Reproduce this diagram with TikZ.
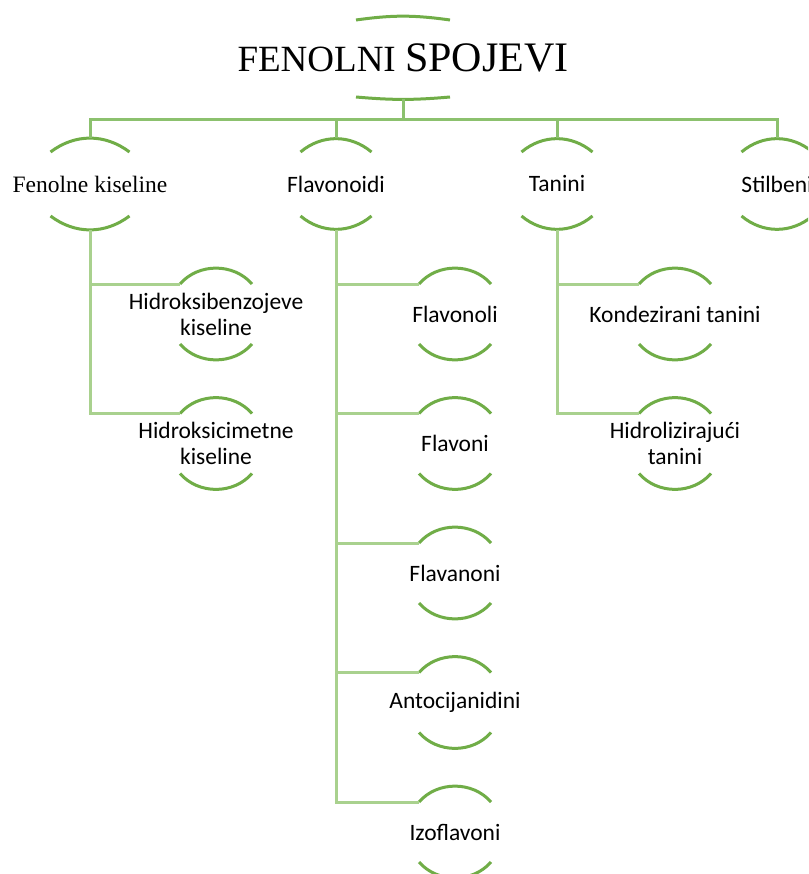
\documentclass[tikz,border=0pt]{standalone}
\usepackage{fontspec}
\setmainfont{Liberation Serif}
\setsansfont{Carlito}
\definecolor{arcg}{RGB}{112,173,71}
\definecolor{barg}{RGB}{140,193,110}
\definecolor{lineg}{RGB}{169,209,142}
\begin{document}
\begin{tikzpicture}[x=1pt,y=-1pt,
  frm/.style 2 args={minimum width=#1, minimum height=#2, inner sep=0pt, outer sep=0pt},
  arcline/.style={draw=arcg, line width=3pt},
  barline/.style={draw=barg, line width=3pt},
  lowline/.style={draw=lineg, line width=3pt},
  serifone/.style={font=\fontsize{23.5}{26}\selectfont\rmfamily, inner sep=0pt},
  sansone/.style={font=\fontsize{23.5}{26}\selectfont\sffamily, inner sep=0pt},
  sanstwo/.style={font=\fontsize{23.5}{26}\selectfont\sffamily, inner sep=0pt, align=center},
]
\clip (0,0) rectangle (808,874);
\fill[white] (0,0) rectangle (808,874);

% title
\node[frm={94}{83.5}, label={[inner sep=0pt]center:{\fontsize{37}{40}\selectfont FENOLNI\ }{\fontsize{42}{44}\selectfont SPOJEVI}}] (T) at (403,57.75) {};

% level 1
\node[frm={79}{92}, label={[serifone]center:Fenolne kiseline}] (fk) at (90,184) {};
\node[frm={71}{92}, label={[sansone]center:Flavonoidi}] (fl) at (336,184) {};
\node[frm={71}{92}, label={[sansone]center:Tanini}] (ta) at (557,184) {};
\node[frm={71}{92}, label={[sansone]center:Stilbeni}] (st) at (777,184) {};

% level 2 - fenolne kiseline
\node[frm={72}{92}, label={[sanstwo]center:Hidroksibenzojeve\\kiseline}] (hb) at (216,314) {};
\node[frm={72}{92}, label={[sanstwo]center:Hidroksicimetne\\kiseline}] (hc) at (216,443.5) {};

% level 2 - flavonoidi
\node[frm={72}{92}, label={[sanstwo]center:Flavonoli}] (f1) at (455,314) {};
\node[frm={72}{92}, label={[sanstwo]center:Flavoni}] (f2) at (455,443.5) {};
\node[frm={72}{92}, label={[sanstwo]center:Flavanoni}] (f3) at (455,573) {};
\node[frm={72}{92}, label={[sanstwo]center:Antocijanidini}] (f4) at (455,702.5) {};
\node[frm={72}{92}, label={[sanstwo]center:Izoflavoni}] (f5) at (455,832) {};

% level 2 - tanini
\node[frm={72}{92}, label={[sanstwo]center:Kondezirani tanini}] (t1) at (675,314) {};
\node[frm={72}{92}, label={[sanstwo]center:Hidrolizirajući\\tanini}] (t2) at (675,443.5) {};

% arcs
\draw[arcline] ([yshift=-4pt]T.north west) to[bend left=8] ([yshift=-4pt]T.north east);
\draw[arcline] ([yshift=2.5pt]T.south west) to[bend right=5] ([yshift=2.5pt]T.south east);
\foreach \n/\s/\b in {fk/14/37, fl/14/40, ta/14/40, st/14/40,
  hb/16/49, hc/16/49, f1/16/49, f2/16/49, f3/16/49, f4/16/49, f5/16/49, t1/16/49, t2/16/49}{
  \draw[arcline] ([yshift=-\s pt]\n.north west) to[bend left=\b] ([yshift=-\s pt]\n.north east);
  \draw[arcline] ([yshift=\s pt]\n.south west) to[bend right=\b] ([yshift=\s pt]\n.south east);
}

% top connectors
\coordinate (bar) at (403,120);
\draw[barline] (T.south) -- (T.south |- bar);
\draw[barline] (fk.north) |- (st.north |- bar) -- (st.north);
\draw[barline] (fl.north) -- (fl.north |- bar);
\draw[barline] (ta.north) -- (ta.north |- bar);

% lower connectors
\draw[lowline] (fk.south) |- ([yshift=-16pt]hb.north west);
\draw[lowline] (fk.south) |- ([yshift=-16pt]hc.north west);
\foreach \c in {f1,f2,f3,f4,f5}{
  \draw[lowline] (fl.south) |- ([yshift=-16pt]\c.north west);
}
\draw[lowline] (ta.south) |- ([yshift=-16pt]t1.north west);
\draw[lowline] (ta.south) |- ([yshift=-16pt]t2.north west);
\end{tikzpicture}
\end{document}
